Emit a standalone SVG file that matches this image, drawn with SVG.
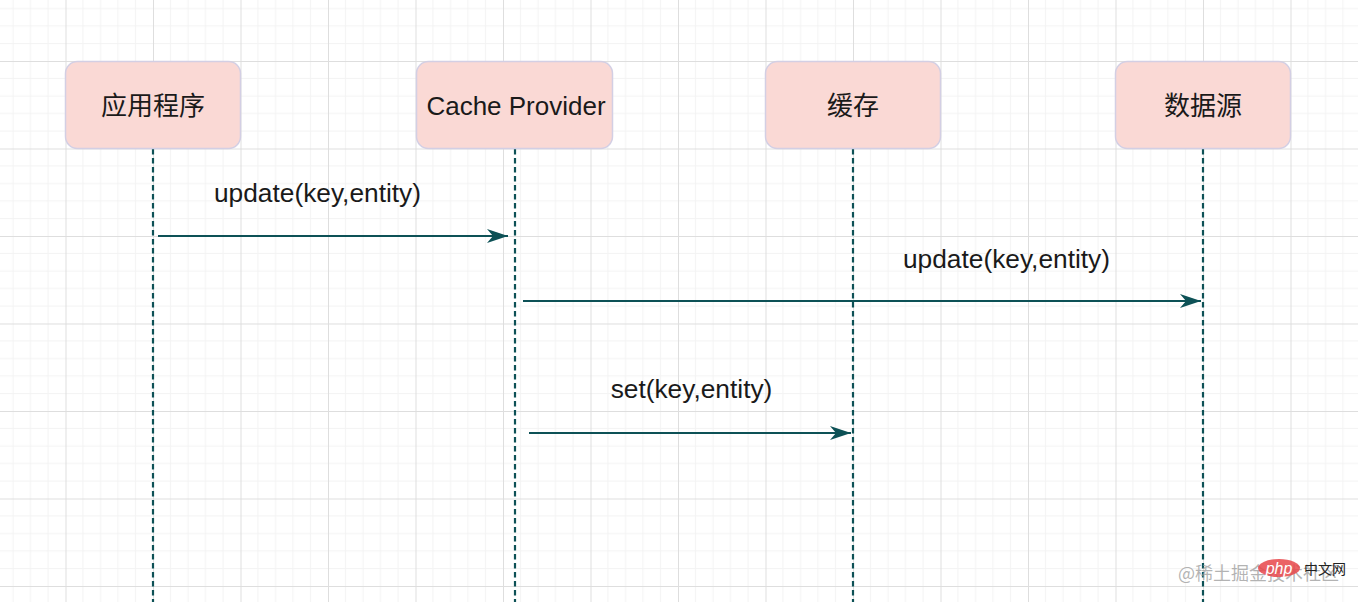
<svg xmlns="http://www.w3.org/2000/svg" width="1358" height="602" viewBox="0 0 1358 602">
  <style>
    .node rect { fill: #fad9d5; stroke: #d3cfe4; stroke-width: 1.5; }
    .node text { font-family: "Liberation Sans", "Noto Sans CJK SC", sans-serif; font-size: 26px; fill: #1a1a1a; text-anchor: middle; }
    .life { stroke: #0d5156; stroke-width: 2.2; stroke-dasharray: 5.5 3.5; fill: none; }
    .msg { stroke: #0d5156; stroke-width: 2; fill: none; marker-end: url(#arrow); }
    .lbl { font-family: "Liberation Sans", sans-serif; font-size: 26.3px; fill: #1a1a1a; text-anchor: middle; }
    .wm { font-family: "Noto Sans CJK SC", sans-serif; font-size: 18px; fill: #9a9a9a; fill-opacity: 0.75; }
  </style>
  <defs>
    <pattern id="grid" patternUnits="userSpaceOnUse" x="-22" y="-26.5" width="87.5" height="87.5">
      <path d="M17.5 0V87.5M35 0V87.5M52.5 0V87.5M70 0V87.5M0 17.5H87.5M0 35H87.5M0 52.5H87.5M0 70H87.5" stroke="#f3f3f3" stroke-width="1" fill="none"/>
      <path d="M0.5 0V87.5M0 0.5H87.5" stroke="#dedede" stroke-width="1" fill="none"/>
    </pattern>
    <marker id="arrow" markerUnits="userSpaceOnUse" markerWidth="24" markerHeight="18" refX="21" refY="8" orient="auto">
      <path d="M0 1 L21 8 L0 15 L6 8 Z" fill="#0d5156"/>
    </marker>
  </defs>
  <rect width="1358" height="602" fill="#ffffff"/>
  <rect width="1358" height="602" fill="url(#grid)"/>

  <g id="lifelines">
    <line class="life" x1="153" y1="149" x2="153" y2="602"/>
    <line class="life" x1="515" y1="149" x2="515" y2="602"/>
    <line class="life" x1="853" y1="149" x2="853" y2="602"/>
    <line class="life" x1="1203" y1="149" x2="1203" y2="602"/>
  </g>

  <g id="node-app" class="node">
    <rect x="65.5" y="61.5" width="175" height="87" rx="12"/>
    <text x="153" y="115">应用程序</text>
  </g>
  <g id="node-cache-provider" class="node">
    <rect x="416.5" y="61.5" width="196" height="87" rx="12"/>
    <text x="516" y="115">Cache Provider</text>
  </g>
  <g id="node-cache" class="node">
    <rect x="765.5" y="61.5" width="175" height="87" rx="12"/>
    <text x="853" y="115">缓存</text>
  </g>
  <g id="node-datasource" class="node">
    <rect x="1115.5" y="61.5" width="175" height="87" rx="12"/>
    <text x="1203" y="115">数据源</text>
  </g>

  <g id="connectors">
    <line class="msg" x1="158" y1="236" x2="508" y2="236"/>
    <text class="lbl" x="317.5" y="202">update(key,entity)</text>
    <line class="msg" x1="523" y1="301" x2="1201" y2="301"/>
    <text class="lbl" x="1006.5" y="268">update(key,entity)</text>
    <line class="msg" x1="529" y1="433" x2="851" y2="433"/>
    <text class="lbl" x="691.5" y="398">set(key,entity)</text>
  </g>

  <g id="watermark">
    <text class="wm" x="1178" y="580">@稀土掘金技术社区</text>
    <ellipse cx="1279" cy="568" rx="21" ry="9" fill="#e8474a" fill-opacity="0.85"/>
    <text x="1279" y="574" font-family="Liberation Sans, sans-serif" font-size="16" font-style="italic" fill="#ffffff" text-anchor="middle">php</text>
    <text x="1304" y="574" font-family="Noto Sans CJK SC, sans-serif" font-size="14" fill="#222222">中文网</text>
  </g>
</svg>
